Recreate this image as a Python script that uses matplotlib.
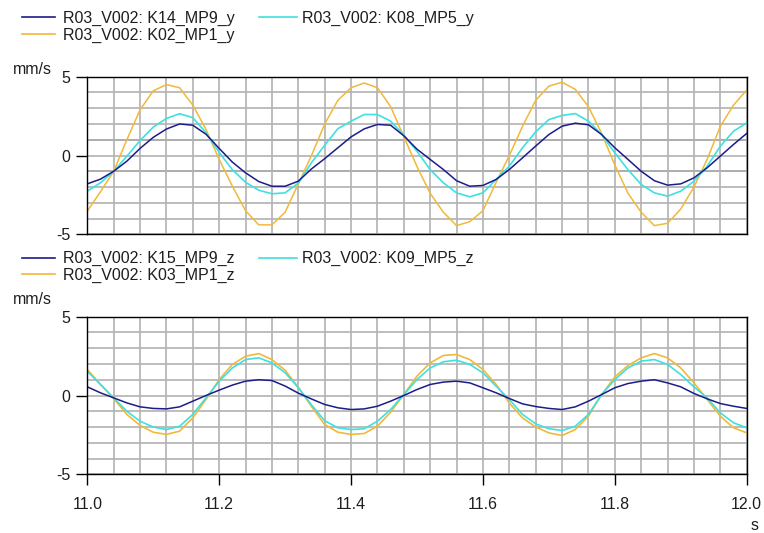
import matplotlib.pyplot as plt
import numpy as np
from matplotlib.lines import Line2D

plt.rcParams["font.family"] = ["Liberation Sans", "DejaVu Sans"]

# sample times in s (one reading every 0.02 s)
time_s = np.linspace(11.0, 12.0, 51)

# upper chart, y direction, mm/s
k14_mp9_y = [-1.80, -1.50, -1.00, -0.36, 0.45, 1.15, 1.68, 2.00, 1.92, 1.35,
             0.45, -0.42, -1.10, -1.65, -1.95, -1.95, -1.63, -0.85, -0.20, 0.49,
             1.18, 1.69, 1.97, 1.92, 1.25, 0.40, -0.25, -0.89, -1.60, -1.95,
             -1.90, -1.52, -0.89, -0.15, 0.60, 1.33, 1.86, 2.05, 1.95, 1.33,
             0.49, -0.25, -1.00, -1.60, -1.88, -1.80, -1.42, -0.78, -0.04, 0.70,
             1.40]
k08_mp5_y = [-2.26, -1.73, -1.00, -0.05, 0.95, 1.80, 2.35, 2.65, 2.40, 1.45,
             0.20, -0.90, -1.70, -2.20, -2.43, -2.37, -1.75, -0.45, 0.65, 1.70,
             2.18, 2.60, 2.60, 2.18, 1.30, 0.27, -0.90, -1.73, -2.37, -2.62,
             -2.37, -1.52, -0.68, 0.49, 1.50, 2.28, 2.54, 2.66, 2.18, 1.33,
             0.17, -0.90, -1.84, -2.37, -2.58, -2.26, -1.63, -0.68, 0.59, 1.54,
             2.07]
k02_mp1_y = [-3.53, -2.30, -1.00, 1.00, 2.90, 4.10, 4.50, 4.30, 3.20, 1.65,
             -0.25, -1.95, -3.50, -4.40, -4.40, -3.60, -1.80, 0.00, 2.00, 3.50,
             4.30, 4.60, 4.30, 3.10, 1.20, -0.70, -2.40, -3.60, -4.45, -4.20,
             -3.50, -1.70, 0.00, 1.85, 3.50, 4.40, 4.65, 4.20, 3.10, 1.40,
             -0.60, -2.40, -3.60, -4.45, -4.30, -3.40, -2.00, -0.25, 1.85, 3.20,
             4.15]

# lower chart, z direction, mm/s
k15_mp9_z = [0.55, 0.17, -0.15, -0.47, -0.72, -0.82, -0.85, -0.72, -0.36, 0.00,
             0.34, 0.66, 0.91, 1.00, 0.95, 0.60, 0.15, -0.22, -0.57, -0.78,
             -0.89, -0.85, -0.68, -0.36, 0.00, 0.38, 0.70, 0.85, 0.91, 0.80,
             0.49, 0.17, -0.19, -0.53, -0.70, -0.82, -0.89, -0.72, -0.36, 0.06,
             0.49, 0.76, 0.91, 1.00, 0.80, 0.55, 0.13, -0.21, -0.51, -0.68,
             -0.82]
k09_mp5_z = [1.54, 0.70, -0.15, -1.00, -1.63, -2.00, -2.16, -1.95, -1.20, -0.15,
             0.91, 1.75, 2.28, 2.39, 2.07, 1.44, 0.50, -0.60, -1.60, -2.05,
             -2.16, -2.11, -1.63, -0.89, 0.06, 1.01, 1.75, 2.14, 2.24, 1.97,
             1.44, 0.59, -0.25, -1.20, -1.80, -2.11, -2.22, -1.95, -1.20, 0.06,
             1.01, 1.75, 2.18, 2.28, 1.97, 1.33, 0.55, -0.15, -1.10, -1.73,
             -2.05]
k03_mp1_z = [1.65, 0.70, -0.20, -1.20, -1.90, -2.33, -2.47, -2.26, -1.42, -0.25,
             1.01, 1.97, 2.49, 2.66, 2.28, 1.60, 0.52, -0.70, -1.84, -2.33,
             -2.47, -2.41, -1.95, -1.06, 0.06, 1.23, 2.07, 2.54, 2.60, 2.28,
             1.65, 0.70, -0.47, -1.42, -2.00, -2.37, -2.54, -2.16, -1.31, 0.06,
             1.18, 1.90, 2.39, 2.66, 2.39, 1.75, 0.80, -0.25, -1.31, -2.05,
             -2.37]

top_labels = ["R03_V002: K14_MP9_y", "R03_V002: K08_MP5_y", "R03_V002: K02_MP1_y"]
bottom_labels = ["R03_V002: K15_MP9_z", "R03_V002: K09_MP5_z", "R03_V002: K03_MP1_z"]

NAVY = "#1c1c8a"
CYAN = "#3fe0e0"
GOLD = "#f0b93a"
GRID = "#b2b2b2"
TEXT = "#1e1e1e"
FONT_SIZE = 11.5

W, H = 764, 533
fig = plt.figure(figsize=(W / 100, H / 100), dpi=100)

ax_top = fig.add_axes([87.3 / W, 1 - 234.3 / H, 659.4 / W, 157.6 / H])
ax_bot = fig.add_axes([87.3 / W, 1 - 474.3 / H, 659.4 / W, 157.6 / H])


def style_axis(ax, show_xticks):
    ax.set_xlim(11.0, 12.0)
    ax.set_ylim(-5, 5)
    ax.set_yticks([-5, 0, 5])
    ax.set_yticklabels(["-5", "0", "5"])
    ax.set_yticks(np.arange(-5, 6, 1), minor=True)
    ax.set_xticks(np.arange(11.0, 12.001, 0.2))
    ax.set_xticks(np.arange(11.0, 12.001, 0.04), minor=True)
    ax.grid(which="both", color=GRID, linewidth=1.2, zorder=0)
    ax.set_axisbelow(True)
    ax.tick_params(axis="y", which="major", direction="out", length=8,
                   width=1, pad=4, labelsize=FONT_SIZE, labelcolor=TEXT)
    ax.tick_params(which="minor", length=0)
    if show_xticks:
        ax.set_xticklabels(["11.0", "11.2", "11.4", "11.6", "11.8", "12.0"])
        ax.tick_params(axis="x", which="major", direction="out", length=8,
                       width=1, pad=8, labelsize=FONT_SIZE, labelcolor=TEXT)
    else:
        ax.tick_params(axis="x", which="major", length=0, labelbottom=False)
    for sp in ax.spines.values():
        sp.set_color("black")
        sp.set_linewidth(1.0)


style_axis(ax_top, False)
style_axis(ax_bot, True)

# darker reference lines in the upper chart
for v in [-1, 1]:
    ax_top.axhline(v, color="#8e8e8e", linewidth=1.2, zorder=0.5)

ax_top.plot(time_s, k02_mp1_y, color=GOLD, linewidth=1.1)
ax_top.plot(time_s, k08_mp5_y, color=CYAN, linewidth=1.2)
ax_top.plot(time_s, k14_mp9_y, color=NAVY, linewidth=1.1)

ax_bot.plot(time_s, k03_mp1_z, color=GOLD, linewidth=1.2)
ax_bot.plot(time_s, k09_mp5_z, color=CYAN, linewidth=1.2)
ax_bot.plot(time_s, k15_mp9_z, color=NAVY, linewidth=1.1)


# legends above each chart (two columns, three entries)
def draw_legend(labels, row_y):
    spots = [(22, 55, 63, row_y[0], NAVY, labels[0]),
             (259, 297, 302, row_y[0], CYAN, labels[1]),
             (22, 55, 63, row_y[1], GOLD, labels[2])]
    for x0, x1, xt, y, col, lab in spots:
        fig.add_artist(Line2D([x0 / W, x1 / W], [1 - y / H, 1 - y / H],
                              color=col, linewidth=1.2,
                              transform=fig.transFigure))
        fig.text(xt / W, 1 - (y + 1) / H, lab, fontsize=FONT_SIZE,
                 ha="left", va="center", color=TEXT)


draw_legend(top_labels, [17.3, 34.3])
draw_legend(bottom_labels, [257.7, 274.3])

fig.text(13 / W, 1 - 69 / H, "mm/s", fontsize=FONT_SIZE, ha="left", va="center", color=TEXT)
fig.text(13 / W, 1 - 300 / H, "mm/s", fontsize=FONT_SIZE, ha="left", va="center", color=TEXT)
fig.text(755 / W, 1 - 526 / H, "s", fontsize=FONT_SIZE, ha="center", va="center", color=TEXT)

fig.savefig("out.png", dpi=100)
